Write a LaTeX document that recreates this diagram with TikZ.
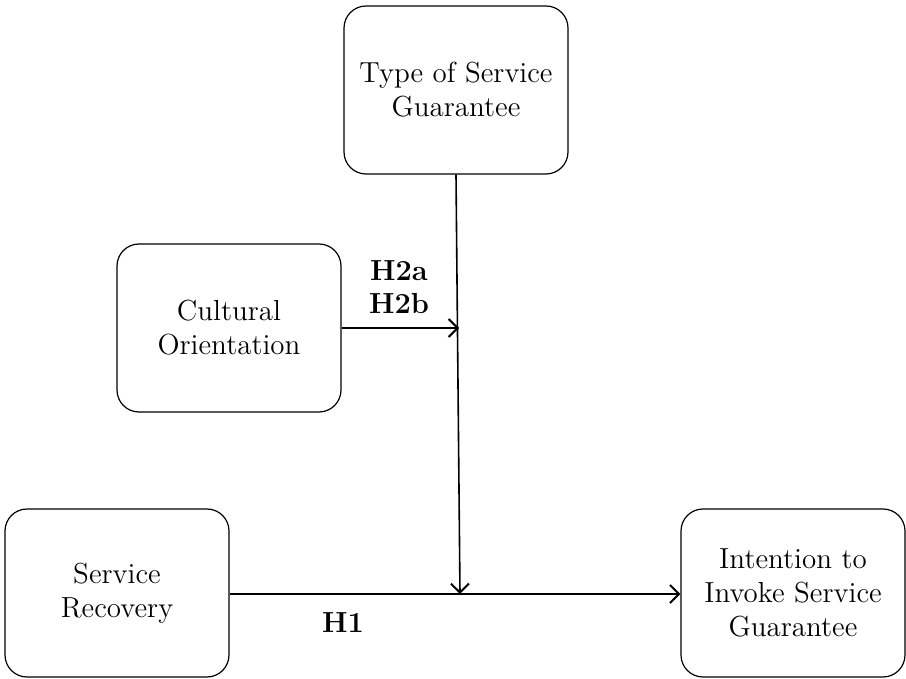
\documentclass[tikz,border=0pt]{standalone}
\usetikzlibrary{arrows.meta}
\begin{document}
\begin{tikzpicture}[x=0.5pt,y=-0.5pt,
  box/.style={draw, line width=0.6pt, rounded corners=11pt, minimum width=112pt, minimum height=84pt, align=center, font=\fontsize{14.5}{17}\selectfont, inner sep=0pt},
  conn/.style={line width=0.8pt, -{Straight Barb[length=4.5pt,width=9pt,line width=1pt]}},
  hlab/.style={font=\fontsize{14.5}{16.5}\selectfont\bfseries, align=center}]
\useasboundingbox (0,0) rectangle (906,679);
\node[box] (type) at (456,90) {Type of Service\\Guarantee};
\node[box] (cult) at (229,328) {Cultural\\Orientation};
\node[box] (sr) at (117,593) {Service\\Recovery};
\node[box] (int) at (793,593) {Intention to\\Invoke Service\\Guarantee};
\coordinate (j) at (460,594);
\coordinate (c) at (459,328);
\draw[conn] (type.south) -- (j);
\draw[conn] (cult.east) -- (c);
\draw[conn] (sr.east |- j) -- (int.west |- j);
\node[hlab] (h2) at (399,287) {H2a\\H2b};
\node[hlab] (h1) at (343,623) {H1};
\end{tikzpicture}
\end{document}
